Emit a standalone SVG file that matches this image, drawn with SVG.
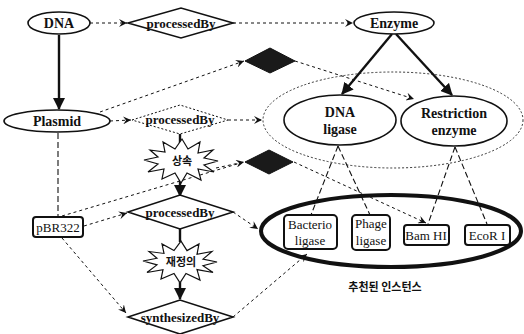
<svg xmlns="http://www.w3.org/2000/svg" width="524" height="334" viewBox="0 0 524 334">
  <style>
    .lbl { font-family: "Liberation Serif", "DejaVu Serif", serif; font-weight: 700; font-size: 14px; text-anchor: middle; fill: #111; }
    .rel { font-family: "Liberation Serif", "DejaVu Serif", serif; font-weight: 700; font-size: 13px; text-anchor: middle; fill: #111; }
    .inst { font-family: "Liberation Serif", "DejaVu Serif", serif; font-size: 13px; text-anchor: middle; fill: #111; }
    .ko { font-family: "Noto Sans CJK KR", "Noto Sans", sans-serif; font-weight: bold; font-size: 11px; text-anchor: middle; fill: #111; }
    .node { fill: #fff; stroke: #111; stroke-width: 1.6; }
    .dnode { fill: #fff; stroke: #111; stroke-width: 1; stroke-dasharray: 2 2; }
    .solid { fill: none; stroke: #111; stroke-width: 2.4; }
    .dash { fill: none; stroke: #111; stroke-width: 1; stroke-dasharray: 3 3; }
    .ldash { fill: none; stroke: #111; stroke-width: 1.1; stroke-dasharray: 6 3; }
    .dot { fill: none; stroke: #333; stroke-width: 1; stroke-dasharray: 2 2; }
    .box { fill: #fff; stroke: #111; stroke-width: 2; }
    .black { fill: #1a1a1a; stroke: #111; stroke-width: 1; }
  </style>
  <defs>
    <marker id="open" markerWidth="9" markerHeight="8" refX="8" refY="4" orient="auto" markerUnits="userSpaceOnUse">
      <path d="M0,0 L8,4 L0,8 L3,4 z" fill="#111"/>
    </marker>
    <marker id="bold" markerWidth="12" markerHeight="12" refX="11" refY="6" orient="auto" markerUnits="userSpaceOnUse">
      <path d="M0,0 L12,6 L0,12 z" fill="#111"/>
    </marker>
    <polygon id="burst" points="37,0 23,4 33,11 17,8 20,19 6,12 0,22 -6,12 -19,18 -17,8 -33,11 -23,3 -37,-1 -23,-4 -31,-11 -16,-9 -18,-19 -6,-12 1,-22 7,-12 19,-19 17,-8 32,-11 23,-3" fill="#fff" stroke="#111" stroke-width="1.2"/>
  </defs>

  <!-- grouping outline around the Enzyme subclasses -->
  <ellipse cx="393" cy="120" rx="130" ry="48" class="dot"/>

  <!-- connectors -->
  <g id="connectors">
    <line x1="59" y1="35" x2="59" y2="109" class="solid" marker-end="url(#bold)"/>
    <line x1="90" y1="23" x2="127" y2="23" class="dash" marker-end="url(#open)"/>
    <line x1="233" y1="23" x2="353" y2="23" class="dash" marker-end="url(#open)"/>
    <line x1="392" y1="34" x2="342" y2="94" class="solid" marker-end="url(#bold)"/>
    <line x1="396" y1="34" x2="452" y2="95" class="solid" marker-end="url(#bold)"/>
    <line x1="100" y1="112" x2="244" y2="61" class="dash" marker-end="url(#open)"/>
    <line x1="295" y1="61" x2="414" y2="99" class="dash" marker-end="url(#open)"/>
    <line x1="110" y1="121" x2="131" y2="120" class="dash" marker-end="url(#open)"/>
    <line x1="228" y1="120" x2="262" y2="120" class="dash" marker-end="url(#open)"/>
    <line x1="180" y1="134" x2="180" y2="143" class="solid"/>
    <line x1="180" y1="180" x2="180" y2="196" class="solid" marker-end="url(#bold)"/>
    <line x1="216" y1="168" x2="244" y2="162" class="dash" marker-end="url(#open)"/>
    <line x1="62" y1="216" x2="244" y2="162" class="dash"/>
    <line x1="294" y1="162" x2="426" y2="223" class="dash" marker-end="url(#open)"/>
    <line x1="58" y1="133" x2="58" y2="216" class="ldash"/>
    <line x1="84" y1="226" x2="127" y2="213" class="dash" marker-end="url(#open)"/>
    <line x1="62" y1="238" x2="126" y2="313" class="dash" marker-end="url(#open)"/>
    <line x1="180" y1="229" x2="180" y2="242" class="solid"/>
    <line x1="180" y1="282" x2="180" y2="299" class="solid" marker-end="url(#bold)"/>
    <line x1="233" y1="212" x2="258" y2="229" class="dash" marker-end="url(#open)"/>
    <line x1="233" y1="317" x2="307" y2="254" class="dash" marker-end="url(#open)"/>
    <line x1="338" y1="146" x2="311" y2="215" class="ldash"/>
    <line x1="338" y1="146" x2="370" y2="215" class="ldash"/>
    <line x1="455" y1="147" x2="428" y2="224" class="ldash"/>
    <line x1="455" y1="147" x2="487" y2="224" class="ldash"/>
  </g>

  <!-- recommended instances outline -->
  <ellipse cx="391" cy="231" rx="130" ry="36" fill="none" stroke="#111" stroke-width="4"/>

  <g id="dna">
    <ellipse cx="59" cy="23" rx="31" ry="11" class="node"/>
    <text x="59" y="28" class="lbl">DNA</text>
  </g>
  <g id="processedBy-top">
    <polygon points="128,23 181,8 233,23 181,38" class="node" stroke-width="1.3"/>
    <text x="181" y="28" class="rel">processedBy</text>
  </g>
  <g id="enzyme">
    <ellipse cx="394" cy="23" rx="40" ry="11" class="node"/>
    <text x="394" y="28" class="lbl">Enzyme</text>
  </g>
  <g id="plasmid">
    <ellipse cx="57" cy="121" rx="53" ry="11" class="node"/>
    <text x="57" y="126" class="lbl">Plasmid</text>
  </g>
  <g id="processedBy-plasmid">
    <polygon points="132,120 180,105 228,120 180,134" class="dnode"/>
    <text x="180" y="124" class="rel" fill="#222">processedBy</text>
  </g>
  <g id="dna-ligase">
    <ellipse cx="340" cy="120" rx="56" ry="25" class="node"/>
    <text x="340" y="117" class="lbl">DNA</text>
    <text x="340" y="134" class="lbl">ligase</text>
  </g>
  <g id="restriction-enzyme">
    <ellipse cx="454" cy="121" rx="53" ry="25" class="node"/>
    <text x="454" y="118" class="lbl">Restriction</text>
    <text x="454" y="135" class="lbl">enzyme</text>
  </g>
  <g id="hidden-relation-1">
    <polygon points="245,61 270,48 295,61 270,73" class="black"/>
  </g>
  <g id="hidden-relation-2">
    <polygon points="245,162 269,150 293,162 269,174" class="black"/>
  </g>
  <g id="inherit">
    <use href="#burst" transform="translate(181,161)"/>
    <text x="182" y="165" class="ko">상속</text>
  </g>
  <g id="processedBy-pbr">
    <polygon points="128,212 180,195 233,212 180,229" class="node" stroke-width="1.8"/>
    <text x="180" y="217" class="rel">processedBy</text>
  </g>
  <g id="override">
    <use href="#burst" transform="translate(180,262) scale(1,0.95)"/>
    <text x="181" y="266" class="ko">재정의</text>
  </g>
  <g id="synthesizedBy">
    <polygon points="128,317 180,300 233,317 180,334" class="node" stroke-width="1.8"/>
    <text x="180" y="322" class="rel">synthesizedBy</text>
  </g>
  <g id="pbr322">
    <rect x="33" y="217" width="50" height="20" rx="3" class="box"/>
    <text x="58" y="232" class="inst">pBR322</text>
  </g>
  <g id="bacterio-ligase">
    <rect x="284" y="215" width="53" height="34" rx="4" class="box"/>
    <text x="310" y="229" class="inst">Bacterio</text>
    <text x="310" y="245" class="inst">ligase</text>
  </g>
  <g id="phage-ligase">
    <rect x="352" y="215" width="38" height="35" rx="4" class="box"/>
    <text x="371" y="228" class="inst">Phage</text>
    <text x="371" y="245" class="inst">ligase</text>
  </g>
  <g id="bam-hi">
    <rect x="404" y="225" width="45" height="20" rx="3" class="box"/>
    <text x="426" y="240" class="inst">Bam HI</text>
  </g>
  <g id="ecor-i">
    <rect x="465" y="225" width="45" height="20" rx="3" class="box"/>
    <text x="487" y="240" class="inst">EcoR I</text>
  </g>
  <text x="385" y="291" class="ko">추천된 인스턴스</text>
</svg>
